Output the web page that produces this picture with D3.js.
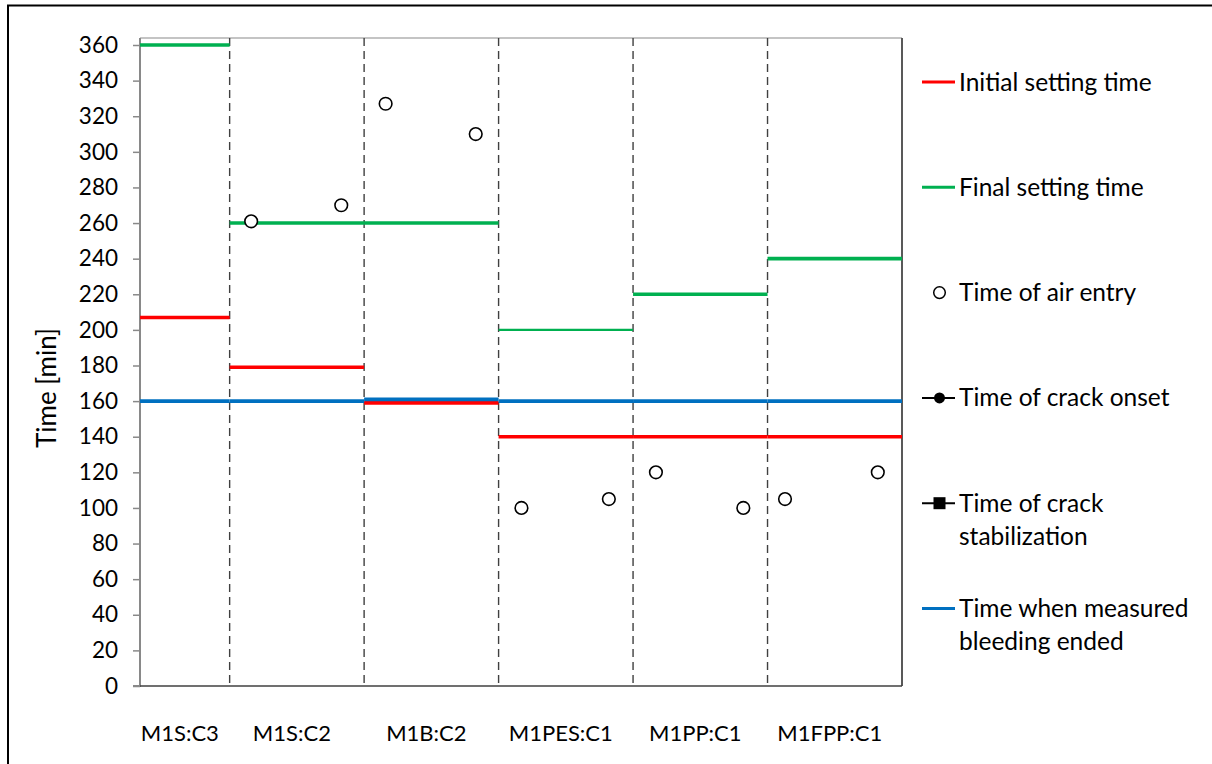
<!DOCTYPE html>
<html>
<head>
<meta charset="utf-8">
<script src="https://cdn.jsdelivr.net/npm/d3@7"></script>
<style>
  html, body { margin: 0; padding: 0; background: #fff; }
  svg { display: block; }
  text { font-family: Lato, "Open Sans", sans-serif; fill: #000; }
</style>
</head>
<body>
<svg id="chart" width="1212" height="764"></svg>
<script>
// ---------------- data ----------------
const categories = ["M1S:C3", "M1S:C2", "M1B:C2", "M1PES:C1", "M1PP:C1", "M1FPP:C1"];
const categoryEdges = [1 / 3, 1, 2, 3, 4, 5, 6];          // x extent of each category
const initialSetting = [207, 179, 159, 140, 140, 140];    // min
const finalSetting = [360, 260, 260, 200, 220, 240];      // min
const bleedingEnded = [160, 160, 161, 160, 160, 160];     // min
const airEntryX = [1.16, 1.83, 2.16, 2.83, 3.17, 3.82, 4.17, 4.82, 5.13, 5.82];
const airEntryY = [261, 270, 327, 310, 100, 105, 120, 100, 105, 120];
const crackOnset = [];          // no points plotted
const crackStabilization = [];  // no points plotted
const yTickValues = [0, 20, 40, 60, 80, 100, 120, 140, 160, 180, 200, 220, 240, 260, 280, 300, 320, 340, 360];
const legendLabels = [
  ["Initial setting time"],
  ["Final setting time"],
  ["Time of air entry"],
  ["Time of crack onset"],
  ["Time of crack", "stabilization"],
  ["Time when measured", "bleeding ended"]
];

// ---------------- layout ----------------
const svg = d3.select("#chart");
const plot = { left: 140, right: 902, top: 38, bottom: 686 };
const x = d3.scaleLinear().domain([categoryEdges[0], categoryEdges[categoryEdges.length - 1]]).range([plot.left, plot.right]);
const y = d3.scaleLinear().domain([0, 360]).range([plot.bottom, 45]);

const RED = "#FF0000", GREEN = "#00B050", BLUE = "#0070C0";

// outer chart frame
svg.append("rect").attr("x", 8).attr("y", 5.5).attr("width", 1400).attr("height", 1000)
  .attr("fill", "#fff").attr("stroke", "#000").attr("stroke-width", 2);

// plot frame (top / right)
svg.append("line").attr("x1", plot.left).attr("x2", plot.right).attr("y1", plot.top).attr("y2", plot.top)
  .attr("stroke", "#8a8a8a").attr("stroke-width", 1.2);
svg.append("line").attr("x1", plot.right).attr("x2", plot.right).attr("y1", plot.top).attr("y2", plot.bottom)
  .attr("stroke", "#595959").attr("stroke-width", 2);

// dashed category separators
svg.append("g").selectAll("line").data(categoryEdges.slice(1, -1)).join("line")
  .attr("x1", d => x(d)).attr("x2", d => x(d))
  .attr("y1", plot.top).attr("y2", plot.bottom)
  .attr("stroke", "#404040").attr("stroke-width", 1.4).attr("stroke-dasharray", "8,5");

// y axis
const yAxis = d3.axisLeft(y).tickValues(yTickValues).tickSize(7).tickPadding(15).tickFormat(d3.format("d"));
const gy = svg.append("g").attr("transform", `translate(${plot.left},0)`).call(yAxis);
gy.select(".domain").attr("d", `M-7,${plot.bottom}H0V${plot.top}`).attr("stroke", "#898989").attr("stroke-width", 2);
gy.selectAll(".tick line").attr("stroke", "#898989").attr("stroke-width", 1.5);
gy.selectAll(".tick text").attr("font-size", 22.5).attr("font-family", "Lato, sans-serif").attr("fill", "#000");

// x axis (baseline only, labels as category text)
svg.append("line").attr("x1", plot.left).attr("x2", plot.right).attr("y1", plot.bottom).attr("y2", plot.bottom)
  .attr("stroke", "#404040").attr("stroke-width", 1.6);
svg.append("g").selectAll("text").data(categories).join("text")
  .attr("x", (d, i) => x((categoryEdges[i] + categoryEdges[i + 1]) / 2) - 5)
  .attr("y", 733).attr("dy", "0.35em").attr("text-anchor", "middle")
  .attr("font-size", 22).text(d => d);

// y title
svg.append("text").attr("transform", `translate(47,${(plot.top + plot.bottom) / 2 + 26}) rotate(-90)`)
  .attr("text-anchor", "middle").attr("dy", "0.35em").attr("font-size", 26).text("Time [min]");

// step series (one horizontal segment per category)
function steps(values, color, widthFn) {
  svg.append("g").selectAll("line").data(values).join("line")
    .attr("x1", (d, i) => x(categoryEdges[i])).attr("x2", (d, i) => x(categoryEdges[i + 1]))
    .attr("y1", d => y(d)).attr("y2", d => y(d))
    .attr("stroke", color).attr("stroke-width", widthFn);
}
steps(finalSetting, GREEN, (d, i) => i === 3 ? 2.2 : 3.6);
steps(initialSetting, RED, 3.6);
steps(bleedingEnded, BLUE, 3.6);

// air entry points
svg.append("g").selectAll("circle").data(airEntryX).join("circle")
  .attr("cx", d => x(d)).attr("cy", (d, i) => y(airEntryY[i])).attr("r", 6.3)
  .attr("fill", "#fff").attr("stroke", "#000").attr("stroke-width", 1.6);

// crack series (empty)
svg.append("g").selectAll("circle").data(crackOnset).join("circle");
svg.append("g").selectAll("rect").data(crackStabilization).join("rect");

// ---------------- legend ----------------
const lg = svg.append("g");
const legendY = legendLabels.map((d, i) => 82 + i * 105.3);
const lx0 = 922, lx1 = 955, ltx = 959;
legendLabels.forEach((lines, i) => {
  const cy = legendY[i];
  if (i === 0 || i === 1 || i === 5) {
    lg.append("line").attr("x1", lx0).attr("x2", lx1).attr("y1", cy).attr("y2", cy)
      .attr("stroke", [RED, GREEN, null, null, null, BLUE][i]).attr("stroke-width", 3);
  } else if (i === 2) {
    lg.append("circle").attr("cx", (lx0 + lx1) / 2 + 1).attr("cy", cy).attr("r", 5.8)
      .attr("fill", "#fff").attr("stroke", "#000").attr("stroke-width", 1.5);
  } else if (i === 3) {
    lg.append("line").attr("x1", lx0).attr("x2", lx1).attr("y1", cy).attr("y2", cy)
      .attr("stroke", "#000").attr("stroke-width", 2);
    lg.append("circle").attr("cx", (lx0 + lx1) / 2 + 1).attr("cy", cy).attr("r", 5.5).attr("fill", "#000");
  } else if (i === 4) {
    lg.append("line").attr("x1", lx0).attr("x2", lx1).attr("y1", cy).attr("y2", cy)
      .attr("stroke", "#000").attr("stroke-width", 2);
    lg.append("rect").attr("x", (lx0 + lx1) / 2 + 1 - 6).attr("y", cy - 6).attr("width", 12).attr("height", 12).attr("fill", "#000");
  }
  lines.forEach((t, j) => {
    lg.append("text").attr("x", ltx).attr("y", cy + j * 33).attr("dy", "0.35em")
      .attr("font-size", 24.5).text(t);
  });
});
</script>
</body>
</html>
